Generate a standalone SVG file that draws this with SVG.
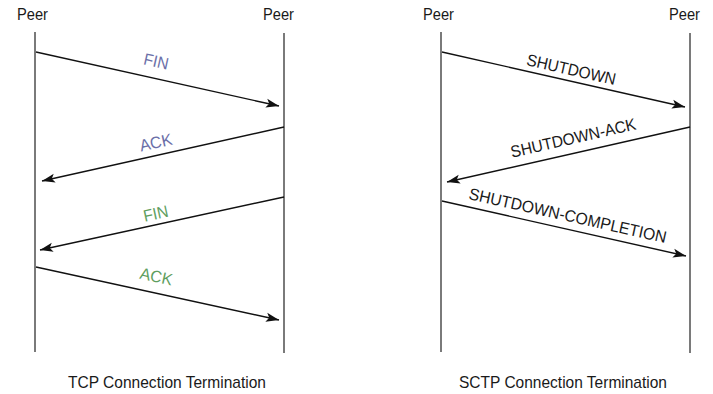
<svg xmlns="http://www.w3.org/2000/svg" width="713" height="394" viewBox="0 0 713 394">
  <style>
    text { font-family: "Liberation Sans", Arial, sans-serif; fill: #1a1a1a; }
    .peer { font-size: 16.5px; }
    .caption { font-size: 17px; text-anchor: middle; }
    .msg { font-size: 16.5px; text-anchor: middle; }
    .blue { fill: #6b6fa8; }
    .green { fill: #5e9e5e; }
    .life { stroke: #7a7a7a; stroke-width: 2; fill: none; }
    .arrow { stroke: #111; stroke-width: 1.4; fill: none; marker-end: url(#head); }
  </style>
  <defs>
    <marker id="head" markerWidth="14" markerHeight="10" viewBox="0 0 14 10" refX="13" refY="5" orient="auto" markerUnits="userSpaceOnUse">
      <path d="M0,0.5 L13,5 L0,9.5 L3,5 Z" fill="#111"/>
    </marker>
  </defs>
  <rect width="713" height="394" fill="#fff"/>

  <!-- TCP side -->
  <g id="tcp-peer-a">
    <text class="peer" x="17" y="20" textLength="31" lengthAdjust="spacingAndGlyphs">Peer</text>
    <line class="life" x1="35" y1="32" x2="35" y2="352"/>
  </g>
  <g id="tcp-peer-b">
    <text class="peer" x="263" y="20" textLength="31" lengthAdjust="spacingAndGlyphs">Peer</text>
    <line class="life" x1="284" y1="33" x2="284" y2="353"/>
  </g>

  <!-- SCTP side -->
  <g id="sctp-peer-a">
    <text class="peer" x="423" y="20" textLength="31" lengthAdjust="spacingAndGlyphs">Peer</text>
    <line class="life" x1="441" y1="32" x2="441" y2="352"/>
  </g>
  <g id="sctp-peer-b">
    <text class="peer" x="669" y="20" textLength="31" lengthAdjust="spacingAndGlyphs">Peer</text>
    <line class="life" x1="690" y1="33" x2="690" y2="353"/>
  </g>

  <g id="connectors">
    <line class="arrow" x1="36" y1="52" x2="279" y2="106"/>
    <line class="arrow" x1="284" y1="127" x2="42" y2="181"/>
    <line class="arrow" x1="284" y1="197" x2="40" y2="250"/>
    <line class="arrow" x1="36" y1="267" x2="279" y2="320"/>

    <line class="arrow" x1="442" y1="52" x2="685" y2="107"/>
    <line class="arrow" x1="690" y1="127" x2="447" y2="182"/>
    <line class="arrow" x1="442" y1="201" x2="686" y2="256"/>
  </g>

  <g id="labels">
    <text class="msg blue" x="155" y="67" transform="rotate(12.6 155 67)" textLength="25" lengthAdjust="spacingAndGlyphs">FIN</text>
    <text class="msg blue" x="157" y="148" transform="rotate(-12.6 157 148)" textLength="33" lengthAdjust="spacingAndGlyphs">ACK</text>
    <text class="msg green" x="157" y="219" transform="rotate(-12.3 157 219)" textLength="25" lengthAdjust="spacingAndGlyphs">FIN</text>
    <text class="msg green" x="155" y="282" transform="rotate(12.3 155 282)" textLength="33" lengthAdjust="spacingAndGlyphs">ACK</text>

    <text class="msg" x="570" y="75" transform="rotate(12.8 570 75)" textLength="91" lengthAdjust="spacingAndGlyphs">SHUTDOWN</text>
    <text class="msg" x="574.5" y="143.5" transform="rotate(-12.8 574.5 143.5)" textLength="128" lengthAdjust="spacingAndGlyphs">SHUTDOWN-ACK</text>
    <text class="msg" x="566.5" y="221" transform="rotate(12.6 566.5 221)" textLength="202" lengthAdjust="spacingAndGlyphs">SHUTDOWN-COMPLETION</text>
  </g>

  <g id="captions">
    <text class="caption" x="167" y="388" textLength="198" lengthAdjust="spacingAndGlyphs">TCP Connection Termination</text>
    <text class="caption" x="563" y="388" textLength="208" lengthAdjust="spacingAndGlyphs">SCTP Connection Termination</text>
  </g>
</svg>
